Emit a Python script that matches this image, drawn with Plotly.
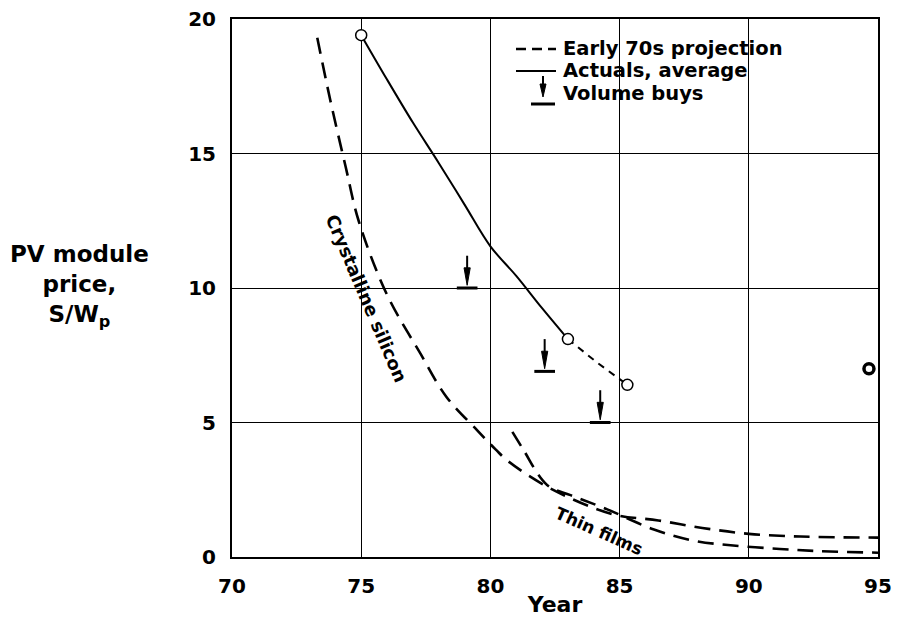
import plotly.graph_objects as go

# ---------------- data ----------------
cryst_years = [73.3, 73.8, 74.4, 74.9, 76.0, 77.3, 78.3, 79.5, 80.2, 80.7, 82.3, 84.7, 86.5, 88.2, 90.0, 92.0, 95.0]
cryst_price = [19.3, 17.0, 14.5, 12.5, 9.75, 7.55, 5.95, 4.7, 4.0, 3.55, 2.56, 1.6, 1.36, 1.08, 0.86, 0.76, 0.72]

thin_years = [80.85, 81.3, 81.9, 82.3, 83.1, 84.5, 86.3, 87.9, 89.5, 91.2, 92.7, 95.0]
thin_price = [4.65, 3.95, 3.0, 2.6, 2.3, 1.78, 1.03, 0.6, 0.42, 0.3, 0.22, 0.16]

actual_years = [75, 76, 77, 78, 79, 80, 81, 82, 83]
actual_price = [19.4, 17.75, 16.15, 14.65, 13.1, 11.55, 10.45, 9.25, 8.1]
recent_years = [83, 84.1, 85.3]
recent_price = [8.1, 7.25, 6.4]
circle_years = [75, 83, 85.3]
circle_price = [19.4, 8.1, 6.4]
target_year = [94.65]
target_price = [7.0]

buy_years = [79.1, 82.1, 84.25]
buy_price = [10.0, 6.9, 5.0]

x_ticks = [70, 75, 80, 85, 90, 95]
y_ticks = [0, 5, 10, 15, 20]

# ---------------- layout helpers ----------------
FW, FH = 897, 623
L, T = 232, 19
PW, PH = 646, 538
R, B = FW - L - PW, FH - T - PH


def PX(px):  # page pixel -> paper x
    return (px - L) / PW


def PY(py):  # page pixel -> paper y
    return (T + PH - py) / PH


FONT = "DejaVu Sans"
dash_long = "16px,9px"

fig = go.Figure()

fig.add_trace(go.Scatter(x=cryst_years, y=cryst_price, mode="lines",
                         line=dict(color="black", width=2.6, dash=dash_long, shape="spline"),
                         showlegend=False, hoverinfo="skip"))
fig.add_trace(go.Scatter(x=thin_years, y=thin_price, mode="lines",
                         line=dict(color="black", width=2.6, dash=dash_long, shape="spline"),
                         showlegend=False, hoverinfo="skip"))
fig.add_trace(go.Scatter(x=actual_years, y=actual_price, mode="lines",
                         line=dict(color="black", width=2, shape="spline"),
                         showlegend=False, hoverinfo="skip"))
fig.add_trace(go.Scatter(x=recent_years, y=recent_price, mode="lines",
                         line=dict(color="black", width=2, dash="7px,6px"),
                         showlegend=False, hoverinfo="skip"))
fig.add_trace(go.Scatter(x=circle_years, y=circle_price, mode="markers",
                         marker=dict(symbol="circle", size=11, color="white",
                                     line=dict(color="black", width=1.5)),
                         showlegend=False, hoverinfo="skip"))
fig.add_trace(go.Scatter(x=target_year, y=target_price, mode="markers",
                         marker=dict(symbol="circle-open", size=10, color="black",
                                     line=dict(color="black", width=3.5)),
                         showlegend=False, hoverinfo="skip", cliponaxis=False))

annotations = []
shapes = []

# volume buys: arrow pointing down to a short base line
HW = 0.12  # half width of arrow head (years)
for yr, pr in zip(buy_years, buy_price):
    shapes.append(dict(type="line", xref="x", yref="y", x0=yr, x1=yr,
                       y0=pr + 1.2, y1=pr + 0.5, line=dict(color="black", width=2)))
    shapes.append(dict(type="path", xref="x", yref="y",
                       path=f"M {yr - HW} {pr + 0.75} L {yr + HW} {pr + 0.75} L {yr} {pr + 0.1} Z",
                       fillcolor="black", line=dict(color="black", width=1)))
    shapes.append(dict(type="line", xref="x", yref="y", x0=yr - 0.4, x1=yr + 0.4,
                       y0=pr, y1=pr, line=dict(color="black", width=3)))

# curve labels
annotations.append(dict(x=75.2, y=9.6, xref="x", yref="y", text="Crystalline silicon",
                        showarrow=False, textangle=67,
                        font=dict(family=FONT, size=18, color="black", weight="bold")))
annotations.append(dict(x=84.2, y=0.95, xref="x", yref="y", text="Thin films",
                        showarrow=False, textangle=24,
                        font=dict(family=FONT, size=17, color="black", weight="bold")))

# legend (drawn by hand)
leg_font = dict(family=FONT, size=19.5, color="black", weight="bold")
shapes.append(dict(type="line", xref="paper", yref="paper", x0=PX(516), x1=PX(556),
                   y0=PY(49), y1=PY(49), line=dict(color="black", width=2.6, dash="10px,6px")))
shapes.append(dict(type="line", xref="paper", yref="paper", x0=PX(516), x1=PX(556),
                   y0=PY(71), y1=PY(71), line=dict(color="black", width=2)))
shapes.append(dict(type="line", xref="paper", yref="paper", x0=PX(543), x1=PX(543),
                   y0=PY(76), y1=PY(88), line=dict(color="black", width=2)))
shapes.append(dict(type="path", xref="paper", yref="paper",
                   path=f"M {PX(540)} {PY(84)} L {PX(546)} {PY(84)} L {PX(543)} {PY(97)} Z",
                   fillcolor="black", line=dict(color="black", width=1)))
shapes.append(dict(type="line", xref="paper", yref="paper", x0=PX(531), x1=PX(555),
                   y0=PY(104), y1=PY(104), line=dict(color="black", width=3)))
for txt, py in [("Early 70s projection", 48), ("Actuals, average", 70), ("Volume buys", 94)]:
    annotations.append(dict(x=PX(561), y=PY(py), xref="paper", yref="paper", text=txt,
                            showarrow=False, xanchor="left", yanchor="middle", font=leg_font))

# y-axis title (unrotated, three lines)
annotations.append(dict(x=PX(79), y=PY(286), xref="paper", yref="paper",
                        text="PV module<br>price,<br>S/W<sub>p</sub>", showarrow=False,
                        align="center", xanchor="center", yanchor="middle",
                        font=dict(family=FONT, size=23, color="black", weight="bold")))

tick_font = dict(family=FONT, size=20, color="black", weight="bold")
fig.update_layout(
    width=FW, height=FH, autosize=False,
    margin=dict(l=L, r=R, t=T, b=B),
    paper_bgcolor="white", plot_bgcolor="white",
    showlegend=False,
    xaxis=dict(range=[70, 95], tickvals=x_ticks, ticktext=[str(v) for v in x_ticks],
               showgrid=True, gridcolor="black", gridwidth=1, zeroline=False,
               showline=True, linecolor="black", linewidth=2, mirror=True,
               ticks="", tickfont=tick_font, ticklabelstandoff=10, fixedrange=True,
               automargin=False, ticklabeloverflow="allow",
               title=dict(text="Year", standoff=0,
                          font=dict(family=FONT, size=22, color="black", weight="bold"))),
    yaxis=dict(range=[0, 20], tickvals=y_ticks, ticktext=[str(v) for v in y_ticks],
               showgrid=True, gridcolor="black", gridwidth=1, zeroline=False,
               showline=True, linecolor="black", linewidth=2, mirror=True,
               ticks="", tickfont=tick_font, ticklabelstandoff=10, fixedrange=True,
               automargin=False, ticklabeloverflow="allow"),
    annotations=annotations,
    shapes=shapes,
)

fig.write_html("out.html", config={"displayModeBar": False},
               post_script="document.body.style.margin='0px';")
